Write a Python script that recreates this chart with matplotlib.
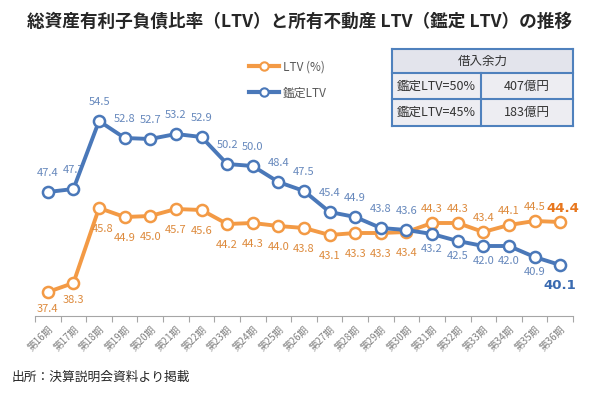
import matplotlib
matplotlib.use('Agg')
import matplotlib.pyplot as plt
import matplotlib.patches as patches
from matplotlib.lines import Line2D

plt.rcParams['font.family'] = ['Noto Sans CJK JP', 'DejaVu Sans']

periods = [f'第{n}期' for n in range(16, 37)]
ltv   = [37.4, 38.3, 45.8, 44.9, 45.0, 45.7, 45.6, 44.2, 44.3, 44.0, 43.8,
         43.1, 43.3, 43.3, 43.4, 44.3, 44.3, 43.4, 44.1, 44.5, 44.4]
kantei = [47.4, 47.7, 54.5, 52.8, 52.7, 53.2, 52.9, 50.2, 50.0, 48.4, 47.5,
          45.4, 44.9, 43.8, 43.6, 43.2, 42.5, 42.0, 42.0, 40.9, 40.1]
table_rows = [('鑑定LTV=50%', '407億円'), ('鑑定LTV=45%', '183億円')]

c_or, c_bl = '#F39A45', '#4A78B9'
c_or_t, c_bl_t = '#DD8A3C', '#6688BC'

W, H = 599, 403
fig = plt.figure(figsize=(W/100, H/100), dpi=100)
# axes in pixel box: x 35..573, y 66..316 (top origin)
ax = fig.add_axes([35/W, 1-316/H, (573-35)/W, (316-66)/H])
x = list(range(len(periods)))

ax.plot(x, ltv, '-o', color=c_or, lw=2.8, ms=8, mfc='white', mew=1.8, zorder=3,
        label='LTV (%)')
ax.plot(x, kantei, '-o', color=c_bl, lw=2.8, ms=8, mfc='white', mew=1.8, zorder=4,
        label='鑑定LTV')

ax.set_xlim(-0.5, len(periods)-0.5)
ax.set_ylim(35, 60)
ax.set_yticks([])
for s in ['left', 'right', 'top']:
    ax.spines[s].set_visible(False)
ax.spines['bottom'].set_color('#A6A6A6')
ax.set_xticks([i-0.5 for i in range(len(periods)+1)])
ax.set_xticklabels([])
ax.tick_params(axis='x', which='major', length=4, color='#A6A6A6')
ax.set_xticks(x, minor=True)
ax.set_xticklabels(periods, minor=True, rotation=45, ha='right',
                   rotation_mode='anchor', fontsize=7, color='#808080')
ax.tick_params(axis='x', which='minor', length=0, pad=6)

# data labels
n = len(periods)
for i in range(n):
    last = i == n-1
    fw = 'bold' if last else 'normal'
    fs = 9.5 if last else 8
    dy_o = -21 if i < 15 else 14
    dy_b = 19 if i < 15 else -15
    if i < 2:
        dy_o = -17
    if last:
        dy_b = -20
    dx_o = 4 if i == 2 else 0
    if last:
        dx_o = 3
    ax.annotate(f'{ltv[i]:.1f}', (i, ltv[i]), textcoords='offset pixels',
                xytext=(dx_o, dy_o), ha='center', va='center', fontsize=fs,
                color='#E8771E' if last else c_or_t, fontweight=fw,
                family='DejaVu Sans' if last else None)
    ax.annotate(f'{kantei[i]:.1f}', (i, kantei[i]), textcoords='offset pixels',
                xytext=(0, dy_b), ha='center', va='center', fontsize=fs,
                color='#3A6AB0' if last else c_bl_t, fontweight=fw,
                family='DejaVu Sans' if last else None)

# legend
handles = [Line2D([], [], color=c, lw=3, marker='o', ms=6, mfc='white', mew=1.5)
           for c in (c_or, c_bl)]
fig.legend(handles, ['LTV (%)', '鑑定LTV'], loc='upper left',
           bbox_to_anchor=(238/W, 1-50/H), frameon=False, fontsize=8.5,
           handlelength=2.6, labelspacing=1.1, handletextpad=0.3,
           labelcolor='#595959')

# table
tax = fig.add_axes([392/W, 1-126/H, (573-392)/W, (126-49)/H])
tax.set_xlim(392, 573)
tax.set_ylim(126, 49)
tax.axis('off')
rows_y = [49, 73, 99, 126]
tax.add_patch(patches.Rectangle((392, 49), 181, 77, facecolor='#EDEDF2',
                                edgecolor='none'))
tax.add_patch(patches.Rectangle((392, 49), 181, 24, facecolor='#E3E4EC',
                                edgecolor='none'))
for yy in rows_y:
    tax.plot([392, 573], [yy, yy], color='#4F81BD', lw=1.5, clip_on=False)
for xx in (392, 573):
    tax.plot([xx, xx], [49, 126], color='#4F81BD', lw=1.5, clip_on=False)
tax.plot([481, 481], [73, 126], color='#4F81BD', lw=1.5, clip_on=False)
tax.text(482.5, 61, '借入余力', ha='center', va='center', fontsize=9,
         color='#333333')
for k, (a, b) in enumerate(table_rows):
    yc = (rows_y[k+1] + rows_y[k+2]) / 2
    tax.text(436.5, yc, a, ha='center', va='center', fontsize=9, color='#333333')
    tax.text(527, yc, b, ha='center', va='center', fontsize=9, color='#333333')

fig.text(0.5, 1-22/H, '総資産有利子負債比率（LTV）と所有不動産 LTV（鑑定 LTV）の推移',
         ha='center', va='center', fontsize=12.7, fontweight='bold',
         color='#262626')
fig.text(12/W, 1-377/H, '出所：決算説明会資料より掲載', ha='left', va='center',
         fontsize=9.2, color='#262626')

fig.savefig('out.png', dpi=100)
